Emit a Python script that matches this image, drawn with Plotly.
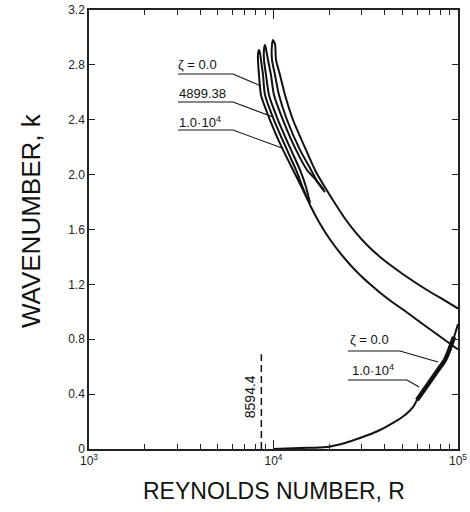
import numpy as np
import plotly.graph_objects as go

# ---------------- data ----------------
# upper-branch neutral curves (each a hairpin loop), Reynolds number R and wavenumber k
zeta0_R = [15770, 14450, 13245, 11840, 10060, 8994, 8773, 8555, 8450,
           8344,
           8241, 8241, 8344, 8555, 9572, 11260, 12760, 14450, 15970, 17640, 19990,
           23220, 27650, 33770, 41740, 51610, 63800, 79890, 100000]
zeta0_k = [1.779, 1.902, 2.034, 2.180, 2.398, 2.580, 2.726, 2.836, 2.887,
           2.908,
           2.879, 2.836, 2.726, 2.580, 2.398, 2.180, 2.034, 1.888, 1.764, 1.655, 1.538,
           1.421, 1.305, 1.195, 1.093, 1.006, 0.915, 0.820, 0.725]

zeta4899_R = [18780, 17000, 15190, 13245, 11260, 10060, 9692, 9337, 9107,
              8994,
              8883, 8883, 9107, 9454, 10578, 12445, 13919, 15002, 15768]
zeta4899_k = [1.888, 1.961, 2.034, 2.180, 2.398, 2.580, 2.726, 2.836, 2.916,
              2.945,
              2.916, 2.836, 2.726, 2.580, 2.398, 2.180, 2.034, 1.910, 1.793]

zeta1e4_R = [19010, 17430, 15970, 13920, 11840, 10710, 10190, 9815, 9815,
             9938,
             10190, 10318, 10845, 11545, 12760, 15000, 17000, 19255, 21820, 24720,
             28000, 32130, 37780, 44440, 54930, 67920, 82930, 100000]
zeta1e4_k = [1.873, 1.939, 2.034, 2.180, 2.398, 2.580, 2.726, 2.836, 2.945,
             2.981,
             2.952, 2.836, 2.726, 2.580, 2.398, 2.180, 2.019, 1.895, 1.779, 1.669,
             1.575, 1.487, 1.400, 1.327, 1.239, 1.159, 1.090, 1.024]

# lower-branch neutral curve
lower_R = [9938, 13920, 19500, 24410, 29430, 36850, 44440, 51620, 57030, 59980,
           65430, 71420, 77920, 85020, 90490, 95130, 100000]
lower_k = [0.0, 0.007, 0.015, 0.044, 0.080, 0.131, 0.190, 0.248, 0.306, 0.357,
           0.430, 0.503, 0.576, 0.649, 0.736, 0.816, 0.911]
# part where the two lower branches (zeta = 0 and 1.0e4) lie on top of each other
lower_thick_R = [59980, 65430, 71420, 77920, 85020, 90490, 95130]
lower_thick_k = [0.357, 0.430, 0.503, 0.576, 0.649, 0.736, 0.816]

# critical Reynolds number
R_crit = 8594.4
R_crit_k = [0.0, 0.69]

# label leader lines (R, k)
lead_up0_R = [3036, 6034, 8555];   lead_up0_k = [2.734, 2.734, 2.646]
lead_up1_R = [3036, 6034, 9938];   lead_up1_k = [2.529, 2.529, 2.420]
lead_up2_R = [3036, 6034, 11121];  lead_up2_k = [2.325, 2.325, 2.194]
lead_lo0_R = [25340, 48480, 77920]; lead_lo0_k = [0.714, 0.714, 0.634]
lead_lo1_R = [25340, 52920, 61460]; lead_lo1_k = [0.503, 0.503, 0.452]

x_tickvals = [1e3, 1e4, 1e5]
x_ticktext = ["10<sup>3</sup>", "10<sup>4</sup>", "10<sup>5</sup>"]
y_tickvals = [0, 0.4, 0.8, 1.2, 1.6, 2.0, 2.4, 2.8, 3.2]
y_ticktext = ["0", "0.4", "0.8", "1.2", "1.6", "2.0", "2.4", "2.8", "3.2"]

FONT = "Liberation Sans, Arial, Helvetica, sans-serif"
INK = "#111111"

fig = go.Figure()

def curve(R, k, width=2.0, dash=None, shape="spline", smoothing=0.6):
    fig.add_trace(go.Scatter(
        x=R, y=k, mode="lines",
        line=dict(color=INK, width=width, dash=dash, shape=shape, smoothing=smoothing),
        hoverinfo="skip", showlegend=False))

curve(zeta0_R, zeta0_k)
curve(zeta4899_R, zeta4899_k)
curve(zeta1e4_R, zeta1e4_k)
curve(lower_R, lower_k, smoothing=0.9)
curve(lower_thick_R, lower_thick_k, width=4.5, smoothing=0.9)
curve([R_crit, R_crit], R_crit_k, width=1.5, dash="7px,4px", shape="linear")

for R, k in [(lead_up0_R, lead_up0_k), (lead_up1_R, lead_up1_k), (lead_up2_R, lead_up2_k),
             (lead_lo0_R, lead_lo0_k), (lead_lo1_R, lead_lo1_k)]:
    curve(R, k, width=1.1, shape="linear")

annots = []
def label(R, k, text, size=13, angle=0, xanchor="left"):
    annots.append(dict(x=np.log10(R), y=k, xref="x", yref="y", text=text,
                       showarrow=False, xanchor=xanchor, yanchor="middle",
                       textangle=angle, font=dict(family=FONT, size=size, color=INK)))

label(lead_up0_R[0] * 0.97, 2.80, "ζ = 0.0")
label(lead_up1_R[0] * 0.985, 2.595, "4899.38")
label(lead_up2_R[0] * 0.985, 2.384, "1.0·10<sup>4</sup>")
label(lead_lo0_R[0], 0.795, "ζ = 0.0")
label(lead_lo1_R[0] * 1.02, 0.576, "1.0·10<sup>4</sup>")
label(R_crit * 0.87, 0.379, "8594.4", size=14, angle=-90, xanchor="center")

# axis titles
annots.append(dict(x=0.5, y=-0.096, xref="paper", yref="paper", text="REYNOLDS NUMBER, R",
                   showarrow=False, xanchor="center", yanchor="middle",
                   font=dict(family=FONT, size=23, color=INK)))
annots.append(dict(x=-0.159, y=0.52, xref="paper", yref="paper", text="WAVENUMBER, k",
                   showarrow=False, xanchor="center", yanchor="middle", textangle=-90,
                   font=dict(family=FONT, size=26, color=INK)))

axis_common = dict(showgrid=False, zeroline=False, showline=True, linecolor="#222",
                   linewidth=1.5, mirror="ticks", ticks="inside", tickcolor="#222",
                   tickwidth=1.2, automargin=False,
                   tickfont=dict(family=FONT, size=12, color="#222"))

fig.update_layout(
    width=470, height=512,
    margin=dict(l=89, r=12, t=10, b=63),
    paper_bgcolor="white", plot_bgcolor="white",
    annotations=annots,
    xaxis=dict(type="log", range=[3, 5], tickvals=x_tickvals, ticktext=x_ticktext,
               ticklen=9, minor=dict(ticks="inside", ticklen=5, dtick="D1",
                                      tickcolor="#222", tickwidth=1, showgrid=False),
               **axis_common),
    yaxis=dict(range=[0, 3.2], tickvals=y_tickvals, ticktext=y_ticktext, ticklen=6,
               **axis_common),
)

fig.write_html("out.html", config={"displayModeBar": False},
               post_script="document.body.style.margin='0';document.body.style.overflow='hidden';")
